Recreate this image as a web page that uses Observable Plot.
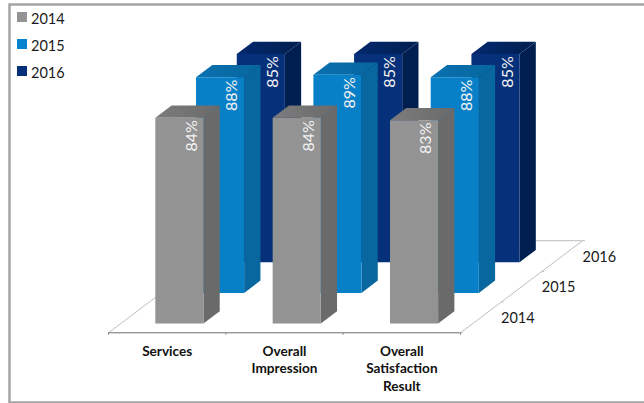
<!DOCTYPE html>
<html>
<head>
<meta charset="utf-8">
<script src="https://cdn.jsdelivr.net/npm/d3@7"></script>
<script src="https://cdn.jsdelivr.net/npm/@observablehq/plot@0.6"></script>
<style>
  html, body { margin: 0; background: #fff; }
  #chart { position: relative; width: 644px; height: 403px; overflow: hidden; }
  #legend { position: absolute; left: 17px; top: 6px; font: 14.5px Lato, sans-serif; color: #1a1a1a; }
  #legend div { height: 27px; line-height: 26px; display: flex; }
  #legend i { width: 10px; height: 10px; margin: 6px 4px 0 0; }
</style>
</head>
<body>
<div id="chart"><div id="legend"></div></div>
<script>
const categories = ["Services", "Overall\nImpression", "Overall\nSatisfaction\nResult"];
const years = ["2014", "2015", "2016"];
const values2014 = [84, 84, 83];
const values2015 = [88, 89, 88];
const values2016 = [85, 85, 85];
const seriesValues = [values2014, values2015, values2016];

const frontColors = ["#939393", "#0880c8", "#06307a"];
const sideColors = ["#6a6a6a", "#07679e", "#001f50"];
const topStartColors = ["#7c7c7c", "#0a70b0", "#03286e"];
const legendColors = ["#939393", "#0884cf", "#06307a"];

// Oblique projection: one step along the year axis moves right and up in data units.
const depthX = 0.347;
const depthY = 12.53;
const project = (c, d, v) => ({px: c + d * depthX, py: v + d * depthY});

// A bar occupies the middle of its category/year cell.
const cLo = 0.295, cHi = 0.705, dLo = 0.3, dHi = 0.7;

const poly = (points) => points.map(([c, d, v]) => project(c, d, v));

// Top faces fade from the front colour's shade into the side colour.
const topGradients = () => {
  const defs = d3.create("svg:defs");
  const grad = defs.selectAll("linearGradient").data(years).join("linearGradient")
    .attr("id", (_, s) => `top-face-${s}`);
  grad.append("stop").attr("offset", "0%").attr("stop-color", (_, s) => topStartColors[s]);
  grad.append("stop").attr("offset", "100%").attr("stop-color", (_, s) => sideColors[s]);
  return defs.node();
};

const barMarks = [];
for (let s = years.length - 1; s >= 0; --s) {
  categories.forEach((_, i) => {
    const v = seriesValues[s][i];
    const c0 = i + cLo, c1 = i + cHi, d0 = s + dLo, d1 = s + dHi;
    const faces = [
      [poly([[c1, d0, 0], [c1, d1, 0], [c1, d1, v], [c1, d0, v]]), sideColors[s]],
      [poly([[c0, d0, v], [c1, d0, v], [c1, d1, v], [c0, d1, v]]), `url(#top-face-${s})`],
      [poly([[c0, d0, 0], [c1, d0, 0], [c1, d0, v], [c0, d0, v]]), frontColors[s]]
    ];
    for (const [points, fill] of faces) {
      barMarks.push(Plot.line(points, {x: "px", y: "py", fill, stroke: "none", curve: "linear"}));
    }
    barMarks.push(Plot.text([{...project(c1, d0, v), label: `${v}%`}], {
      x: "px", y: "py", text: "label", rotate: -90, dx: -12, dy: 18,
      fill: "#f2f2f2", fontSize: 16, fontFamily: "Lato, sans-serif", textAnchor: "middle"
    }));
  });
}

const chart = Plot.plot({
  width: 644,
  height: 403,
  marginLeft: 9,
  marginTop: 4,
  marginBottom: 1,
  marginRight: -6,
  x: {domain: [0, 3], range: [108, 460], axis: null},
  y: {domain: [0, 100], range: [332.3, 87.3], axis: null},
  marks: [
    topGradients,
    Plot.frame({stroke: "#a4a4a4", strokeWidth: 2.5}),
    // Floor outline
    Plot.line(poly([[0, 0, 0], [0, 3, 0], [3, 3, 0], [3, 0, 0]]), {x: "px", y: "py", stroke: "#bdbdbd", strokeWidth: 1, curve: "linear"}),
    Plot.link([0, 1, 2, 3], {
      x1: (d) => project(3, d, 0).px, y1: (d) => project(3, d, 0).py,
      x2: (d) => project(3, d, 0).px + 0.02, y2: (d) => project(3, d, 0).py,
      stroke: "#bdbdbd"
    }),
    Plot.ruleY([0], {x1: 0, x2: 3, stroke: "#6e6e6e", strokeWidth: 1}),
    Plot.ruleX([0, 1, 2, 3], {x: (d) => d, y1: 0, y2: -1, stroke: "#8a8a8a"}),
    ...barMarks,
    // Year labels along the depth axis
    Plot.text(years, {
      x: (_, s) => project(3, s + 0.5, 0).px,
      y: (_, s) => project(3, s + 0.5, 0).py,
      text: (d) => d, dx: 37, dy: 1,
      fontSize: 14.5, fontFamily: "Lato, sans-serif", fill: "#1a1a1a", textAnchor: "middle"
    }),
    // Category labels under the front axis
    Plot.text(categories, {
      x: (_, i) => i + 0.5, y: () => 0, text: (d) => d,
      dy: 11, lineAnchor: "top", lineHeight: 1.27,
      fontSize: 13.6, fontWeight: "bold", fontFamily: "Lato, sans-serif", fill: "#111", textAnchor: "middle"
    })
  ]
});
document.getElementById("chart").prepend(chart);

// Legend, one row per year
const legend = d3.select("#legend").selectAll("div").data(years).join("div");
legend.append("i").style("background", (_, s) => legendColors[s]);
legend.append("span").text((d) => d);
</script>
</body>
</html>
